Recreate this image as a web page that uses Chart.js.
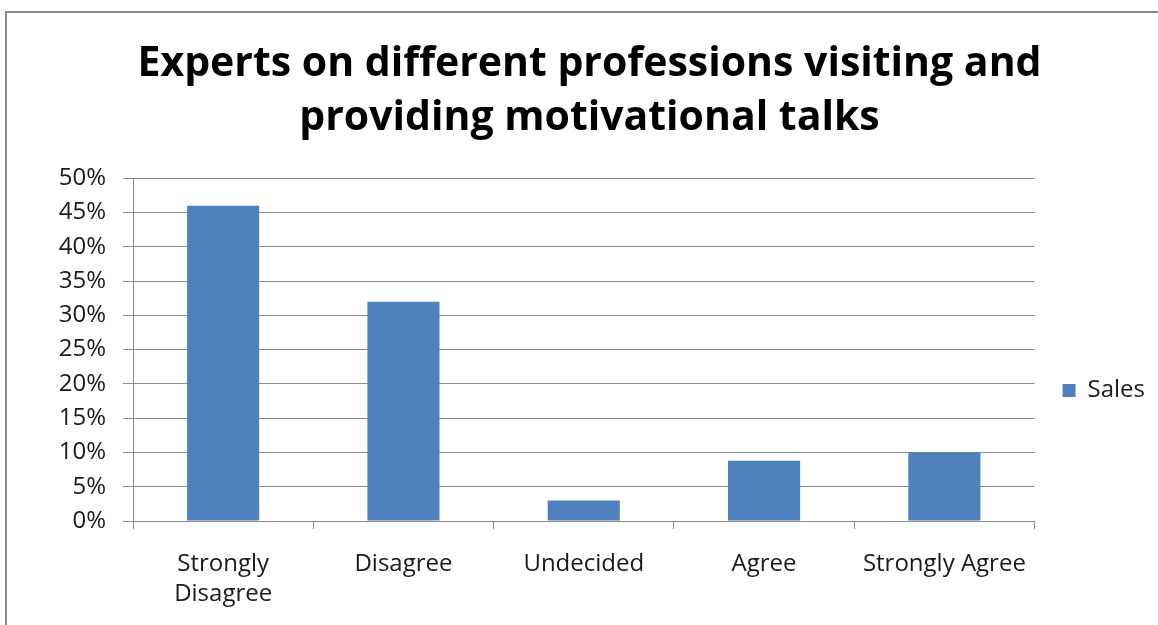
<!DOCTYPE html>
<html>
<head>
<meta charset="utf-8">
<script src="https://cdn.jsdelivr.net/npm/chart.js@4"></script>
<style>
  html, body { margin: 0; padding: 0; background: #fff; overflow: hidden; }
  #frame {
    position: absolute; left: 5px; top: 11px; width: 1300px; height: 800px;
    border-left: 2px solid #8c8c8c; border-top: 2px solid #8c8c8c;
  }
  #wrap { position: absolute; left: 0; top: 0; width: 1180px; height: 625px; }
</style>
</head>
<body>
<div id="frame"></div>
<div id="wrap"><canvas id="chart"></canvas></div>
<script>
const categories = [['Strongly', 'Disagree'], 'Disagree', 'Undecided', 'Agree', 'Strongly Agree'];
const salesValues = [0.46, 0.32, 0.03, 0.088, 0.10];
const seriesName = 'Sales';
const chartTitle = ['Experts on different professions visiting and', 'providing motivational talks'];

const gridGray = '#8c8c8c';
const tickFont = { family: 'Open Sans', size: 24, lineHeight: 1.25 };

// legend sits lower than Chart.js centres it, title a bit to the right
const nudgeBoxes = {
    id: 'nudgeBoxes',
    afterLayout(chart) {
        const lg = chart.legend;
        lg.top += 78;
        lg.bottom += 78;
        const t = chart.titleBlock;
        t.left += 12;
        t.right += 12;
    }
};

new Chart(document.getElementById('chart'), {
    type: 'bar',
    data: {
        labels: categories,
        datasets: [{
            label: seriesName,
            data: salesValues,
            backgroundColor: '#4F81BD',
            borderWidth: 0,
            categoryPercentage: 1,
            barPercentage: 0.4
        }]
    },
    options: {
        responsive: true,
        maintainAspectRatio: false,
        animation: false,
        layout: { padding: { right: 25 } },
        plugins: {
            title: {
                display: true,
                text: chartTitle,
                color: '#000',
                font: { family: 'Open Sans', size: 41, weight: 'bold', lineHeight: 1.32 },
                padding: { top: 37, bottom: 33 }
            },
            legend: {
                position: 'right',
                labels: {
                    color: '#1a1a1a',
                    font: tickFont,
                    boxWidth: 13,
                    boxHeight: 13,
                    padding: 28
                }
            },
            tooltip: { enabled: false }
        },
        scales: {
            x: {
                grid: {
                    offset: true,
                    drawOnChartArea: false,
                    drawTicks: true,
                    tickLength: 8,
                    color: gridGray
                },
                border: { display: true, color: gridGray },
                ticks: {
                    color: '#1a1a1a',
                    font: tickFont,
                    padding: 20,
                    maxRotation: 0,
                    autoSkip: false
                },
                afterFit: (scale) => { scale.height = 104; }
            },
            y: {
                min: 0,
                max: 0.5,
                grid: {
                    color: gridGray,
                    drawTicks: true,
                    tickLength: 10
                },
                border: { display: true, color: gridGray },
                ticks: {
                    stepSize: 0.05,
                    color: '#1a1a1a',
                    font: tickFont,
                    padding: 17,
                    callback: (v) => Math.round(v * 100) + '%'
                },
                afterFit: (scale) => { scale.width = 133; }
            }
        }
    },
    plugins: [nudgeBoxes]
});
</script>
</body>
</html>
